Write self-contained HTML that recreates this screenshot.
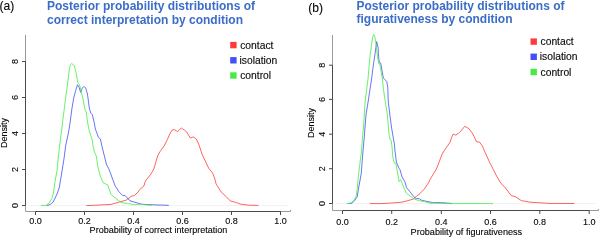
<!DOCTYPE html>
<html><head><meta charset="utf-8"><style>
html,body{margin:0;padding:0;background:#fff;}
svg{display:block;font-family:"Liberation Sans",sans-serif;will-change:transform;}
text{stroke-width:0.12;}
.k{stroke:#080808;}
</style></head><body>
<svg width="600" height="238" viewBox="0 0 600 238">
<text x="-0.4" y="10.2" font-size="12" fill="#080808" class="k">(a)</text>
<text x="308.3" y="12.4" font-size="12" fill="#080808" class="k">(b)</text>
<text font-size="12" font-weight="bold" fill="#3b6dc8"><tspan x="47" y="9.6">Posterior probability distributions of</tspan><tspan x="47" y="23.8">correct interpretation by condition</tspan></text>
<text font-size="12" font-weight="bold" fill="#3b6dc8"><tspan x="356.5" y="9.6">Posterior probability distributions of</tspan><tspan x="356.5" y="23.2">figurativeness by condition</tspan></text>
<line x1="28.5" y1="205.5" x2="287.5" y2="205.5" stroke="#f2f2f2" stroke-width="1"/>
<polyline points="25.5,35.0 25.5,211.5 290.5,211.5 290.5,210.0" fill="none" stroke="#9a9a9a" stroke-width="1"/>
<line x1="25.5" y1="205.5" x2="25.5" y2="61.5" stroke="#4a4a4a" stroke-width="1"/>
<line x1="35.5" y1="211.5" x2="280.5" y2="211.5" stroke="#4a4a4a" stroke-width="1"/>
<line x1="22.0" y1="205.5" x2="25.5" y2="205.5" stroke="#4a4a4a" stroke-width="1"/>
<text transform="translate(17.9,205.5) rotate(-90)" text-anchor="middle" font-size="9" fill="#080808" class="k">0</text>
<line x1="22.0" y1="169.5" x2="25.5" y2="169.5" stroke="#4a4a4a" stroke-width="1"/>
<text transform="translate(17.9,169.5) rotate(-90)" text-anchor="middle" font-size="9" fill="#080808" class="k">2</text>
<line x1="22.0" y1="133.5" x2="25.5" y2="133.5" stroke="#4a4a4a" stroke-width="1"/>
<text transform="translate(17.9,133.5) rotate(-90)" text-anchor="middle" font-size="9" fill="#080808" class="k">4</text>
<line x1="22.0" y1="97.5" x2="25.5" y2="97.5" stroke="#4a4a4a" stroke-width="1"/>
<text transform="translate(17.9,97.5) rotate(-90)" text-anchor="middle" font-size="9" fill="#080808" class="k">6</text>
<line x1="22.0" y1="61.5" x2="25.5" y2="61.5" stroke="#4a4a4a" stroke-width="1"/>
<text transform="translate(17.9,61.5) rotate(-90)" text-anchor="middle" font-size="9" fill="#080808" class="k">8</text>
<line x1="35.5" y1="211.5" x2="35.5" y2="215.0" stroke="#4a4a4a" stroke-width="1"/>
<text transform="translate(35.5,224.1)" text-anchor="middle" font-size="9" fill="#080808" class="k">0.0</text>
<line x1="84.5" y1="211.5" x2="84.5" y2="215.0" stroke="#4a4a4a" stroke-width="1"/>
<text transform="translate(84.5,224.1)" text-anchor="middle" font-size="9" fill="#080808" class="k">0.2</text>
<line x1="133.5" y1="211.5" x2="133.5" y2="215.0" stroke="#4a4a4a" stroke-width="1"/>
<text transform="translate(133.5,224.1)" text-anchor="middle" font-size="9" fill="#080808" class="k">0.4</text>
<line x1="182.5" y1="211.5" x2="182.5" y2="215.0" stroke="#4a4a4a" stroke-width="1"/>
<text transform="translate(182.5,224.1)" text-anchor="middle" font-size="9" fill="#080808" class="k">0.6</text>
<line x1="231.5" y1="211.5" x2="231.5" y2="215.0" stroke="#4a4a4a" stroke-width="1"/>
<text transform="translate(231.5,224.1)" text-anchor="middle" font-size="9" fill="#080808" class="k">0.8</text>
<line x1="280.5" y1="211.5" x2="280.5" y2="215.0" stroke="#4a4a4a" stroke-width="1"/>
<text transform="translate(280.5,224.1)" text-anchor="middle" font-size="9" fill="#080808" class="k">1.0</text><line x1="335.5" y1="203.5" x2="595.5" y2="203.5" stroke="#f2f2f2" stroke-width="1"/>
<polyline points="332.5,35.0 332.5,210.5 598.5,210.5 598.5,209.0" fill="none" stroke="#9a9a9a" stroke-width="1"/>
<line x1="332.5" y1="203.5" x2="332.5" y2="65.2" stroke="#4a4a4a" stroke-width="1"/>
<line x1="342.5" y1="210.5" x2="589.2" y2="210.5" stroke="#4a4a4a" stroke-width="1"/>
<line x1="329.0" y1="203.5" x2="332.5" y2="203.5" stroke="#4a4a4a" stroke-width="1"/>
<text transform="translate(324.9,203.5) rotate(-90)" text-anchor="middle" font-size="9" fill="#080808" class="k">0</text>
<line x1="329.0" y1="168.7" x2="332.5" y2="168.7" stroke="#4a4a4a" stroke-width="1"/>
<text transform="translate(324.9,168.7) rotate(-90)" text-anchor="middle" font-size="9" fill="#080808" class="k">2</text>
<line x1="329.0" y1="134.2" x2="332.5" y2="134.2" stroke="#4a4a4a" stroke-width="1"/>
<text transform="translate(324.9,134.2) rotate(-90)" text-anchor="middle" font-size="9" fill="#080808" class="k">4</text>
<line x1="329.0" y1="99.4" x2="332.5" y2="99.4" stroke="#4a4a4a" stroke-width="1"/>
<text transform="translate(324.9,99.4) rotate(-90)" text-anchor="middle" font-size="9" fill="#080808" class="k">6</text>
<line x1="329.0" y1="65.2" x2="332.5" y2="65.2" stroke="#4a4a4a" stroke-width="1"/>
<text transform="translate(324.9,65.2) rotate(-90)" text-anchor="middle" font-size="9" fill="#080808" class="k">8</text>
<line x1="342.5" y1="210.5" x2="342.5" y2="214.0" stroke="#4a4a4a" stroke-width="1"/>
<text transform="translate(342.5,224.7)" text-anchor="middle" font-size="9" fill="#080808" class="k">0.0</text>
<line x1="391.7" y1="210.5" x2="391.7" y2="214.0" stroke="#4a4a4a" stroke-width="1"/>
<text transform="translate(391.7,224.7)" text-anchor="middle" font-size="9" fill="#080808" class="k">0.2</text>
<line x1="441.3" y1="210.5" x2="441.3" y2="214.0" stroke="#4a4a4a" stroke-width="1"/>
<text transform="translate(441.3,224.7)" text-anchor="middle" font-size="9" fill="#080808" class="k">0.4</text>
<line x1="490.5" y1="210.5" x2="490.5" y2="214.0" stroke="#4a4a4a" stroke-width="1"/>
<text transform="translate(490.5,224.7)" text-anchor="middle" font-size="9" fill="#080808" class="k">0.6</text>
<line x1="539.8" y1="210.5" x2="539.8" y2="214.0" stroke="#4a4a4a" stroke-width="1"/>
<text transform="translate(539.8,224.7)" text-anchor="middle" font-size="9" fill="#080808" class="k">0.8</text>
<line x1="589.2" y1="210.5" x2="589.2" y2="214.0" stroke="#4a4a4a" stroke-width="1"/>
<text transform="translate(589.2,224.7)" text-anchor="middle" font-size="9" fill="#080808" class="k">1.0</text><text transform="translate(89.6,233.2)" font-size="9.05" fill="#080808" class="k">Probability of correct interpretation</text>
<text transform="translate(410.6,234.6)" font-size="9.15" fill="#080808" class="k">Probability of figurativeness</text>
<text transform="translate(7.3,133.0) rotate(-90)" text-anchor="middle" font-size="9" fill="#080808" class="k">Density</text>
<text transform="translate(313.8,123) rotate(-90)" text-anchor="middle" font-size="9" fill="#080808" class="k">Density</text>
<polyline points="86.4,205.6 96.0,205.2 111.1,204.4 119.2,202.1 126.2,200.1 131.8,196.1 134.3,195.6 138.1,192.0 139.8,189.5 143.9,186.0 145.4,181.1 150.9,174.1 153.8,169.0 157.6,156.1 160.1,151.5 164.1,146.0 167.6,139.1 170.2,133.1 172.2,130.1 174.2,129.6 177.7,131.6 181.3,128.0 184.3,130.1 186.8,132.1 190.3,138.1 193.3,136.9 196.4,139.1 199.4,146.0 202.4,155.1 204.9,160.1 208.6,168.1 212.6,173.1 214.6,178.1 216.1,184.0 221.2,192.1 226.2,196.6 230.2,200.8 233.5,201.8 236.5,202.6 240.3,204.1 248.4,205.2 258.5,205.4" fill="none" stroke="#ff3c3c" stroke-width="0.8" stroke-linejoin="round"/>
<polyline points="46.6,205.6 50.1,204.6 53.1,202.1 56.6,195.0 59.2,188.0 60.2,182.1 62.2,170.0 64.1,158.1 65.6,146.0 68.6,132.1 70.2,122.0 71.7,110.1 73.7,98.0 75.6,90.6 77.5,84.7 79.0,87.2 80.6,92.3 82.3,88.1 84.0,86.4 85.7,88.1 87.4,94.0 88.0,98.0 89.3,108.1 90.8,113.1 92.3,114.6 94.1,122.0 95.4,129.1 98.4,137.1 100.4,139.1 101.9,146.0 104.4,156.1 106.6,165.0 108.5,168.2 110.1,172.1 112.6,179.1 115.2,186.0 117.2,189.0 118.7,191.5 122.7,195.6 125.2,195.6 129.9,200.8 136.0,202.6 142.1,204.3 155.2,204.9 168.8,205.3" fill="none" stroke="#4250f5" stroke-width="0.8" stroke-linejoin="round"/>
<polyline points="41.0,205.6 46.1,205.3 49.1,203.1 52.1,198.1 53.6,192.0 55.1,181.1 57.1,170.0 58.1,159.1 59.6,146.0 61.1,134.1 62.6,122.0 64.1,110.1 65.6,98.0 68.4,78.0 69.3,68.9 70.5,64.7 71.6,63.5 73.1,64.7 74.3,66.0 75.6,70.6 77.0,78.0 77.7,82.6 79.4,84.3 81.0,90.6 82.8,98.0 84.8,109.1 86.3,112.1 87.5,122.0 89.3,131.1 92.3,140.1 93.0,146.0 94.4,152.0 96.4,156.1 97.5,165.0 100.0,175.1 103.1,182.6 106.1,184.2 107.6,184.7 109.1,189.0 111.1,194.6 116.2,198.6 121.2,202.6 126.2,203.3 130.0,203.9 135.0,204.9 140.1,204.1 146.1,204.9 152.2,205.3" fill="none" stroke="#44ec44" stroke-width="0.8" stroke-linejoin="round"/>
<polyline points="369.7,203.6 380.3,203.6 390.4,203.1 402.1,202.1 408.1,200.6 413.2,199.1 416.2,196.6 420.2,193.3 424.3,189.0 426.3,186.0 428.3,183.1 430.3,179.1 433.3,174.0 435.9,170.0 437.6,166.0 440.6,158.1 442.6,153.1 446.1,148.0 450.2,142.0 451.7,137.2 453.2,134.1 455.7,135.1 458.2,133.6 460.7,131.1 464.8,126.3 468.8,128.6 472.3,133.1 474.9,138.2 476.4,141.8 479.4,142.0 482.4,146.0 485.4,153.1 488.6,160.0 490.0,163.2 493.1,169.1 496.1,175.1 500.1,182.0 501.7,184.0 505.6,188.0 511.2,195.6 515.2,196.6 521.3,200.6 530.3,202.2 550.0,203.4 574.4,203.5" fill="none" stroke="#ff3c3c" stroke-width="0.8" stroke-linejoin="round"/>
<polyline points="348.1,203.6 352.1,203.1 354.6,200.6 357.1,197.1 358.6,188.0 361.2,174.0 362.1,162.1 363.1,150.0 364.1,139.1 365.1,126.0 366.1,114.1 368.1,102.0 370.2,88.1 371.7,78.0 373.2,66.1 375.0,54.0 376.7,41.6 378.2,48.1 378.4,54.0 379.2,62.1 380.7,63.1 383.3,78.0 384.8,79.5 386.8,81.5 387.8,88.1 388.3,102.0 389.8,114.1 391.3,126.0 392.8,135.1 394.4,144.1 394.9,150.0 396.4,162.1 398.9,168.1 400.1,170.0 402.1,177.1 404.6,181.1 406.6,187.6 410.2,192.0 413.7,196.6 416.2,198.6 419.2,198.6 421.3,200.1 425.3,201.1 428.3,201.6 432.3,202.6 440.4,202.6 450.0,203.3 452.0,203.5" fill="none" stroke="#4250f5" stroke-width="0.8" stroke-linejoin="round"/>
<polyline points="346.6,203.6 351.1,203.1 354.1,200.1 356.1,196.1 357.3,188.5 358.6,174.0 360.1,162.1 361.6,150.0 362.6,136.1 363.6,126.0 365.1,102.0 366.6,90.1 368.1,78.0 370.2,54.0 372.7,37.1 373.7,34.5 374.7,36.0 376.2,45.1 377.2,54.0 378.7,63.6 379.7,63.6 382.3,78.0 383.3,88.1 385.3,102.0 387.3,114.1 388.3,126.0 389.3,136.1 390.3,140.1 391.3,140.6 392.3,150.0 392.8,157.1 394.4,163.1 395.9,163.6 397.1,170.0 398.1,176.0 399.1,181.6 400.6,179.6 402.1,183.1 404.1,188.2 406.3,193.0 410.2,196.1 414.2,199.1 420.2,200.9 424.8,201.6 429.3,203.1 450.0,203.6 492.9,203.6" fill="none" stroke="#44ec44" stroke-width="0.8" stroke-linejoin="round"/>
<rect x="230.2" y="41.9" width="6.4" height="6.4" fill="#ff3c3c"/><text x="240.2" y="48.6" font-size="10.3" fill="#080808" stroke="#080808" stroke-width="0.15">contact</text>
<rect x="230.2" y="57.1" width="6.4" height="6.4" fill="#4250f5"/><text x="239.5" y="63.8" font-size="10.3" fill="#080808" stroke="#080808" stroke-width="0.15">isolation</text>
<rect x="230.2" y="72.3" width="6.4" height="6.4" fill="#44ec44"/><text x="240.2" y="79.0" font-size="10.3" fill="#080808" stroke="#080808" stroke-width="0.15">control</text>
<rect x="530.5" y="38.4" width="6.4" height="6.4" fill="#ff3c3c"/><text x="540.5" y="45.1" font-size="10.3" fill="#080808" stroke="#080808" stroke-width="0.15">contact</text>
<rect x="530.5" y="53.6" width="6.4" height="6.4" fill="#4250f5"/><text x="539.8" y="60.3" font-size="10.3" fill="#080808" stroke="#080808" stroke-width="0.15">isolation</text>
<rect x="530.5" y="68.8" width="6.4" height="6.4" fill="#44ec44"/><text x="540.5" y="75.5" font-size="10.3" fill="#080808" stroke="#080808" stroke-width="0.15">control</text>
</svg>
</body></html>
